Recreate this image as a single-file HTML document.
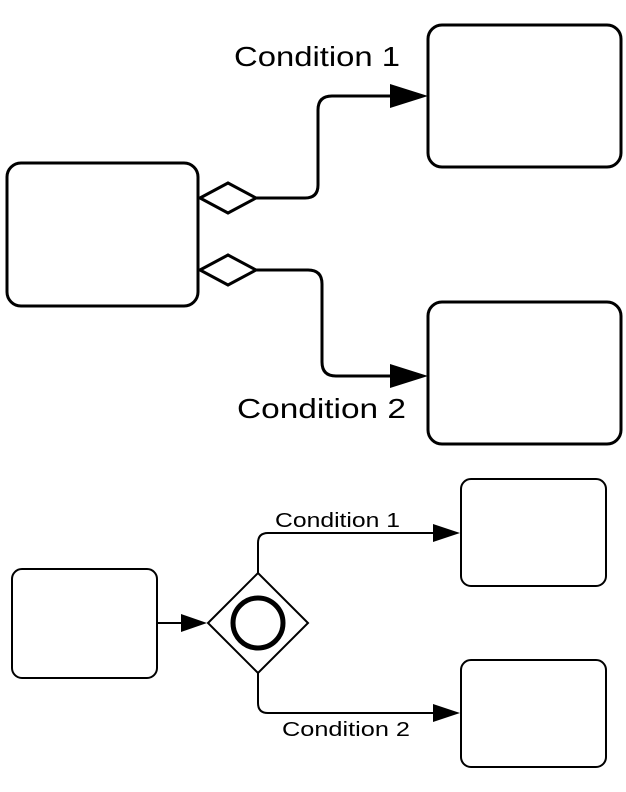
<!DOCTYPE html>
<html><head><style>body{margin:0;background:#fff}svg{display:block}</style></head>
<body>
<svg width="626" height="792" viewBox="0 0 626 792" xmlns="http://www.w3.org/2000/svg" font-family="Liberation Sans, Arial, sans-serif">
<g fill="none" stroke="#000" stroke-width="3">
<rect x="7" y="163" width="191" height="143" rx="14"/>
<rect x="428" y="25" width="193" height="142" rx="14"/>
<rect x="428" y="302" width="193" height="142" rx="14"/>
<path d="M200 198 L228 183 L256 198 L228 213 Z" fill="#fff"/>
<path d="M200 270 L228 255 L256 270 L228 285 Z" fill="#fff"/>
<path d="M256 198 H305 Q318 198 318 185 V110 Q318 96 332 96 H395"/>
<path d="M256 270 H308 Q322 270 322 284 V362 Q322 376 336 376 H395"/>
</g>
<path d="M390 84 L428 96 L390 108 Z"/>
<path d="M390 364 L428 376 L390 388 Z"/>
<text x="234" y="66" font-size="28" textLength="166" lengthAdjust="spacingAndGlyphs">Condition 1</text>
<text x="237" y="418" font-size="28" textLength="169" lengthAdjust="spacingAndGlyphs">Condition 2</text>
<g fill="none" stroke="#000" stroke-width="2">
<rect x="12" y="569" width="145" height="109" rx="10"/>
<rect x="461" y="479" width="145" height="107" rx="10"/>
<rect x="461" y="660" width="145" height="107" rx="10"/>
<path d="M157 623 H185"/>
<path d="M208 623 L258 573 L308 623 L258 673 Z"/>
<path d="M258 573 V543 Q258 533 268 533 H440"/>
<path d="M258 673 V703 Q258 713 268 713 H440"/>
</g>
<circle cx="258" cy="623" r="25" fill="none" stroke="#000" stroke-width="5"/>
<path d="M181 614 L207 623 L181 632 Z"/>
<path d="M433 524 L460 533 L433 542 Z"/>
<path d="M433 704 L460 713 L433 722 Z"/>
<text x="275" y="527" font-size="20" textLength="125" lengthAdjust="spacingAndGlyphs">Condition 1</text>
<text x="282" y="736" font-size="20" textLength="128" lengthAdjust="spacingAndGlyphs">Condition 2</text>
</svg>
</body></html>
